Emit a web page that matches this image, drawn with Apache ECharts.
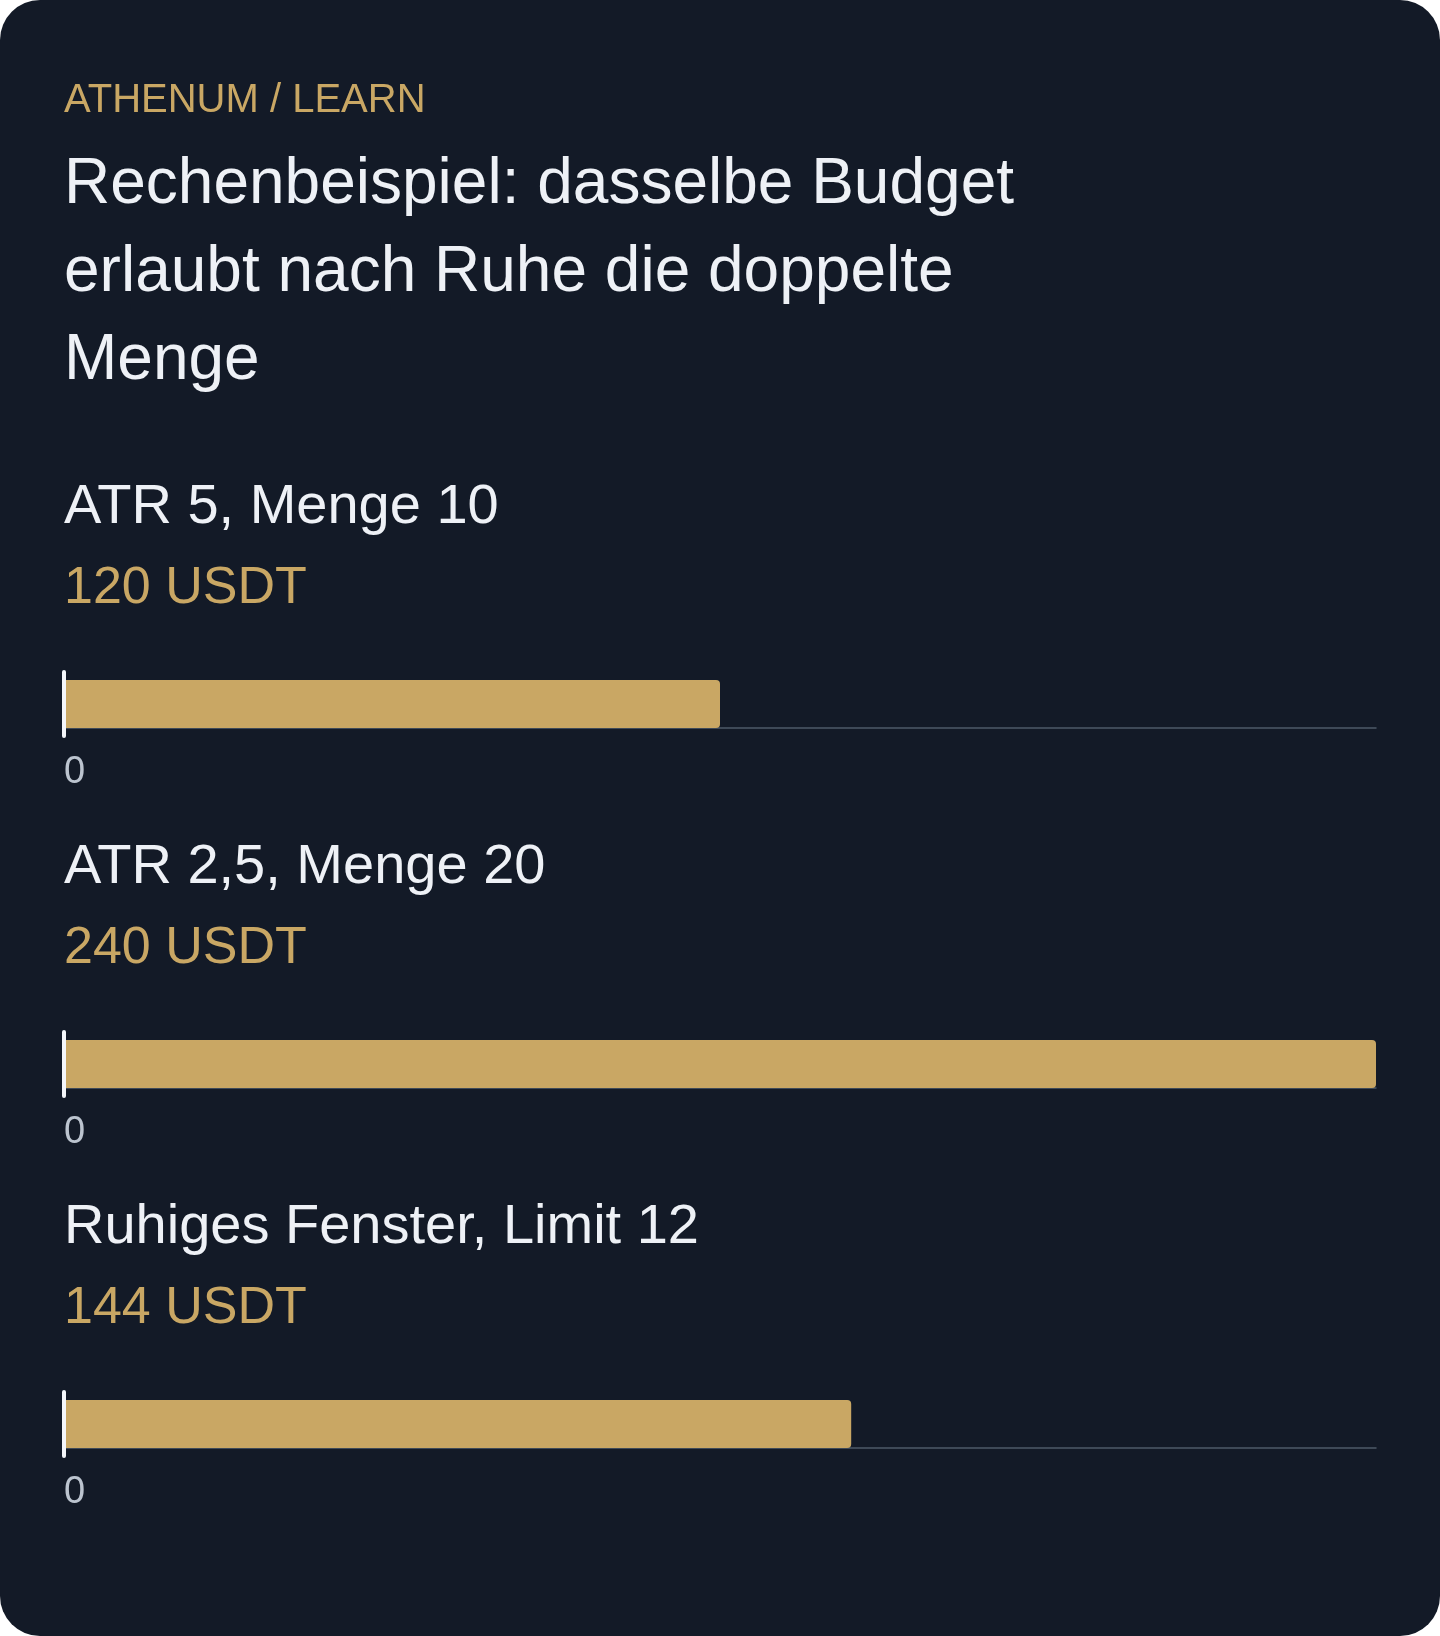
<!DOCTYPE html>
<html>
<head>
<meta charset="utf-8">
<script src="https://cdn.jsdelivr.net/npm/echarts@6/dist/echarts.min.js"></script>
<style>
    html, body { margin: 0; padding: 0; background: #ffffff; }
    #card {
        width: 1440px; height: 1636px;
        border-radius: 40px; overflow: hidden;
        background: #131a27;
    }
    #chart { width: 1440px; height: 1636px; }
</style>
</head>
<body>
<div id="card"><div id="chart"></div></div>
<script>
var eyebrow = 'ATHENUM / LEARN';
var headline = 'Rechenbeispiel: dasselbe Budget\nerlaubt nach Ruhe die doppelte\nMenge';
var scenarios = ['ATR 5, Menge 10', 'ATR 2,5, Menge 20', 'Ruhiges Fenster, Limit 12'];
var budgets = [120, 240, 144];
var unit = 'USDT';

(function () {
    var font = "'Liberation Sans', Arial, sans-serif";
    var gold = '#c9a764', white = '#eef1f6';
    var step = 360;
    var axisMax = Math.max.apply(null, budgets);

    var titles = [
        {text: eyebrow, left: 64, top: 81, padding: 0,
            textStyle: {color: gold, fontSize: 40, fontWeight: 'normal', fontFamily: font, lineHeight: 40}},
        {text: headline, left: 64, top: 141, padding: 0,
            textStyle: {color: white, fontSize: 64, fontWeight: 'normal', fontFamily: font, lineHeight: 88}}
    ];
    var grids = [], xAxes = [], yAxes = [], series = [];

    for (var i = 0; i < scenarios.length; i++) {
        var off = i * step;
        // Szenario-Name und Betrag
        titles.push({text: scenarios[i], left: 64, top: 480 + off, padding: 0,
            textStyle: {color: white, fontSize: 56, fontWeight: 'normal', fontFamily: font, lineHeight: 56}});
        titles.push({text: budgets[i] + ' ' + unit, left: 64, top: 563 + off, padding: 0,
            textStyle: {color: gold, fontSize: 52, fontWeight: 'normal', fontFamily: font, lineHeight: 52}});

        grids.push({left: 64, right: 64, top: 672 + off, height: 64, containLabel: false});
        xAxes.push({
            type: 'value', gridIndex: i, min: 0, max: axisMax, offset: -8,
            splitLine: {show: false},
            axisTick: {show: false},
            axisLine: {show: true, lineStyle: {color: '#4d5968', width: 1.5}},
            axisLabel: {
                color: '#bcc4cf', fontSize: 38, fontFamily: font, margin: 26, align: 'left',
                formatter: function (v) { return v === 0 ? '0' : ''; }
            }
        });
        yAxes.push({
            type: 'category', gridIndex: i, data: [scenarios[i]], z: 5,
            axisLine: {show: true, lineStyle: {color: '#f4f6fa', width: 4}},
            axisTick: {show: false},
            axisLabel: {show: false}
        });
        series.push({
            type: 'bar', xAxisIndex: i, yAxisIndex: i, barWidth: 48,
            data: [budgets[i]],
            itemStyle: {color: gold, borderRadius: [0, 4, 4, 0]},
            silent: true
        });
    }

    var chart = echarts.init(document.getElementById('chart'));
    chart.setOption({
        backgroundColor: 'transparent',
        animation: false,
        title: titles,
        grid: grids,
        xAxis: xAxes,
        yAxis: yAxes,
        series: series
    });
})();
</script>
</body>
</html>
